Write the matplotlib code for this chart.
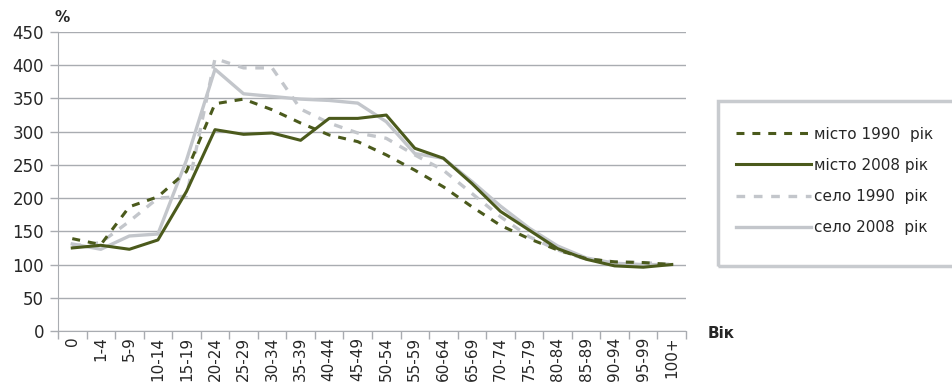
import numpy as np
import matplotlib.pyplot as plt
from matplotlib.patches import Rectangle

plt.rcParams['font.family'] = ['DejaVu Sans']

ages = ['0', '1-4', '5-9', '10-14', '15-19', '20-24', '25-29', '30-34', '35-39',
        '40-44', '45-49', '50-54', '55-59', '60-64', '65-69', '70-74', '75-79',
        '80-84', '85-89', '90-94', '95-99', '100+']

misto_1990 = [139, 130, 187, 202, 240, 342, 349, 333, 313, 295, 285, 265, 242,
              217, 187, 159, 139, 122, 109, 104, 103, 100]
misto_2008 = [125, 129, 123, 137, 210, 303, 296, 298, 287, 320, 320, 325, 275,
              260, 222, 180, 152, 124, 108, 98, 96, 100]
selo_1990 = [128, 133, 165, 200, 203, 410, 396, 396, 334, 313, 298, 290, 265,
             242, 207, 172, 142, 122, 108, 104, 103, 100]
selo_2008 = [131, 123, 143, 146, 257, 394, 357, 353, 349, 347, 343, 315, 267,
             260, 225, 188, 155, 128, 110, 102, 100, 100]

dark = '#4b5a1c'
light = '#c3c6cb'
grid = '#a9acb1'
txt = '#262626'

fig = plt.figure(figsize=(9.53, 3.91), dpi=100)
ax = fig.add_axes([58/953, 1 - 331/391, 628/953, 299/391])

x = np.arange(len(ages))
dash = (0, (2.6, 2.6))
l1, = ax.plot(x, misto_1990, color=dark, lw=2.2, ls=dash, label='місто 1990  рік')
l2, = ax.plot(x, misto_2008, color=dark, lw=2.2, label='місто 2008 рік')
l3, = ax.plot(x, selo_1990, color=light, lw=2.4, ls=dash, label='село 1990  рік')
l4, = ax.plot(x, selo_2008, color=light, lw=2.4, label='село 2008  рік')
for ln in (l1, l2):
    ln.set_zorder(3)

ax.set_xlim(-0.5, len(ages) - 0.5)
ax.set_ylim(0, 450)
ax.set_yticks(np.arange(0, 451, 50))
ax.yaxis.grid(True, color=grid, lw=1)
ax.set_axisbelow(True)

ax.set_xticks(np.arange(-0.5, len(ages), 1))
ax.set_xticklabels([])
ax.set_xticks(x, minor=True)
ax.set_xticklabels(ages, minor=True, rotation=90)
ax.tick_params(axis='x', which='major', length=6, color=grid, width=1)
ax.tick_params(axis='x', which='minor', length=0, pad=4, labelsize=11, labelcolor=txt)
ax.tick_params(axis='y', length=6, color=grid, width=1, labelsize=12, labelcolor=txt, pad=4)

for s in ('top', 'right'):
    ax.spines[s].set_visible(False)
ax.spines['left'].set_color(grid)
ax.spines['bottom'].set_color(grid)

fig.text(55/953, 1 - 17/391, '%', fontsize=11, fontweight='bold', color=txt, va='center')
fig.text(708/953, 1 - 334/391, 'Вік', fontsize=11, fontweight='bold', color=txt, va='center')

# legend frame, cut off at right edge like the reference
fig.patches.append(Rectangle((718/953, 1 - 266/391), 260/953, 165/391,
                             transform=fig.transFigure, fill=False,
                             edgecolor='#c8cbcf', lw=2.5))
fig.legend(handles=[l1, l2, l3, l4], loc='upper left',
           bbox_to_anchor=(722/953, 1 - 113/391), frameon=False,
           fontsize=11, handlelength=4.9, handletextpad=0.25,
           labelspacing=1.05, labelcolor=txt)

fig.savefig('out.png', dpi=100)
